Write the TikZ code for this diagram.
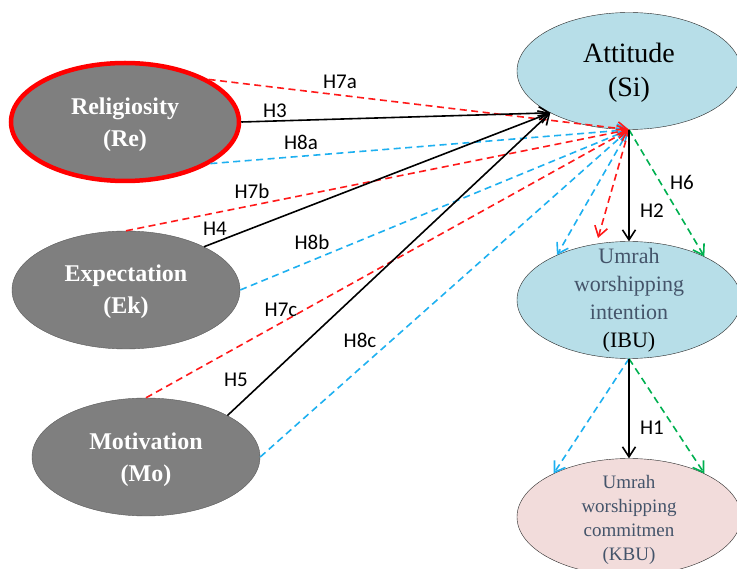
\documentclass[tikz,border=0pt]{standalone}
\usepackage{fontspec}
\setmainfont{Liberation Serif}
\newfontfamily\hypfont{Carlito}
\usepackage{tikz}
\usetikzlibrary{shapes,arrows.meta,positioning}
\definecolor{latentgray}{RGB}{127,127,127}
\definecolor{attblue}{RGB}{183,222,232}
\definecolor{kbupink}{RGB}{242,220,219}
\definecolor{slate}{RGB}{68,84,106}
\definecolor{medred}{RGB}{255,25,25}
\definecolor{medblue}{RGB}{30,176,240}
\definecolor{medgreen}{RGB}{0,176,80}

\begin{document}
\begin{tikzpicture}[x=1pt,y=-1pt]
\tikzstyle{latent}=[ellipse, minimum width=228pt, minimum height=118pt, inner sep=0pt, draw=black!65, fill=latentgray]
\tikzstyle{latenttext}=[text=white, align=center, font=\bfseries\fontsize{24}{32}\selectfont]
\tikzstyle{outcome}=[ellipse, minimum width=224pt, minimum height=117pt, inner sep=0pt, draw=black!85]
\tikzstyle{hyp}=[inner sep=1pt, font=\hypfont\fontsize{21}{24}\selectfont]
\tikzstyle{direct}=[-{Straight Barb[length=10pt,width=13pt]}, line width=1.6pt, black]
\tikzstyle{mediate}=[-{Straight Barb[length=10pt,width=13pt]}, line width=1.6pt, dash pattern=on 7pt off 4.5pt]
\useasboundingbox (0,0) rectangle (737,569);
\clip (0,0) rectangle (737,569);

	% exogenous constructs
	\node[latent, draw=red, line width=4.5pt] (re) at (125,122) [label={[latenttext, yshift=-3pt]center:{Religiosity\\(Re)}}]{};
	\node[latent] (ek) at (126,290) [label={[latenttext, yshift=-2pt]center:{Expectation\\(Ek)}}]{};
	\node[latent] (mo) at (146,457) [label={[latenttext, yshift=-3pt]center:{Motivation\\(Mo)}}]{};

	% endogenous constructs
	\node[outcome, fill=attblue] (att) at (629,71) [label={[align=center, yshift=-2pt, font=\fontsize{28}{34}\selectfont]center:{Attitude\\(Si)}}]{};
	\node[outcome, fill=attblue] (ibu) at (629,300) [label={[align=center, text=slate, font=\fontsize{22}{28}\selectfont]center:{Umrah\\worshipping\\intention\\\textcolor{black}{(IBU)}}}]{};
	\node[outcome, fill=kbupink] (kbu) at (629,517) [label={[align=center, text=slate, yshift=-3pt, font=\fontsize{19}{24}\selectfont]center:{Umrah\\worshipping\\commitmen\\(KBU)}}]{};

	\coordinate (redend) at (598,238);

	% mediation paths
	\draw[mediate, medblue] (re.-26) -- (att.south);
	\draw[mediate, medblue] (ek.0) -- (att.south);
	\draw[mediate, medblue] (mo.0) -- (att.south);
	\draw[mediate, medblue] (att.south) -- (ibu.148);
	\draw[mediate, medblue] (ibu.south) -- (kbu.150);
	\draw[mediate, medgreen] (att.south) -- (ibu.30);
	\draw[mediate, medgreen] (ibu.south) -- (kbu.30);
	\draw[mediate, medred] (att.south) -- (redend);
	\draw[mediate, medred] (re.27) -- (att.south);
	\draw[mediate, medred] (ek.90) -- (att.south);
	\draw[mediate, medred] (mo.90) -- (att.south);

	% direct paths
	\draw[direct] (re.0) -- (att.208);
	\draw[direct] (ek.29) -- (att.208);
	\draw[direct] (mo.27) -- (att.208);
	\draw[direct] (att.south) -- (ibu.north);
	\draw[direct] (ibu.south) -- (kbu.north);

	% hypotheses
	\node[hyp] (h7a) at (340,82) {H7a};
	\node[hyp] (h3) at (275,111) {H3};
	\node[hyp] (h8a) at (301,142) {H8a};
	\node[hyp] (h7b) at (252,191) {H7b};
	\node[hyp] (h4) at (215,229) {H4};
	\node[hyp] (h8b) at (312,242) {H8b};
	\node[hyp] (h7c) at (281,310) {H7c};
	\node[hyp] (h5) at (236,380) {H5};
	\node[hyp] (h8c) at (360,340) {H8c};
	\node[hyp] (h6) at (682,182) {H6};
	\node[hyp] (h2) at (652,211) {H2};
	\node[hyp] (h1) at (652,428) {H1};

\end{tikzpicture}
\end{document}
